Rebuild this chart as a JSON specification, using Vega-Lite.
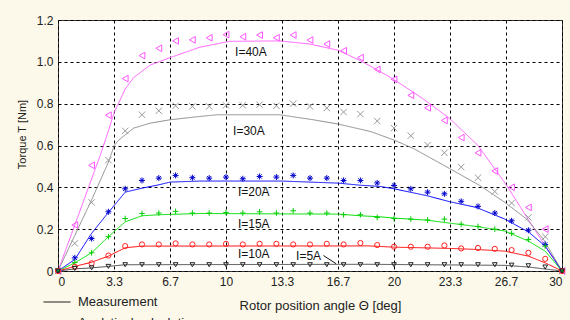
{
  "$schema": "https://vega.github.io/schema/vega-lite/v6.json",
  "width": 504,
  "height": 251,
  "autosize": {"type": "none"},
  "padding": {"left": 58, "top": 20, "right": 8, "bottom": 49},
  "background": "#fdf9ea",
  "config": {
    "font": "Liberation Sans",
    "view": {"stroke": "#333333", "strokeWidth": 1, "fill": "#ffffff"},
    "axis": {"labelFont": "Liberation Sans", "titleFont": "Liberation Sans", "labelColor": "#222222", "titleColor": "#222222", "titleFontWeight": "normal", "grid": true, "gridColor": "#000000", "gridDash": [3, 3], "gridOpacity": 1, "gridWidth": 1, "domain": false, "tickSize": 0, "labelFontSize": 12}
  },
  "datasets": {
    "lines": [
      {"s": "40A", "k": "Measurement", "x": 0, "y": 0}, {"s": "40A", "k": "Measurement", "x": 1, "y": 0.22}, {"s": "40A", "k": "Measurement", "x": 2, "y": 0.44}, {"s": "40A", "k": "Measurement", "x": 2.5, "y": 0.55}, {"s": "40A", "k": "Measurement", "x": 3, "y": 0.67}, {"s": "40A", "k": "Measurement", "x": 3.33, "y": 0.755}, {"s": "40A", "k": "Measurement", "x": 4, "y": 0.87}, {"s": "40A", "k": "Measurement", "x": 4.5, "y": 0.925}, {"s": "40A", "k": "Measurement", "x": 5.5, "y": 0.985}, {"s": "40A", "k": "Measurement", "x": 6.67, "y": 1.02}, {"s": "40A", "k": "Measurement", "x": 8.45, "y": 1.07}, {"s": "40A", "k": "Measurement", "x": 10.2, "y": 1.098}, {"s": "40A", "k": "Measurement", "x": 13.2, "y": 1.1}, {"s": "40A", "k": "Measurement", "x": 15, "y": 1.085}, {"s": "40A", "k": "Measurement", "x": 16.7, "y": 1.055}, {"s": "40A", "k": "Measurement", "x": 18, "y": 1.005}, {"s": "40A", "k": "Measurement", "x": 19, "y": 0.962}, {"s": "40A", "k": "Measurement", "x": 20, "y": 0.915}, {"s": "40A", "k": "Measurement", "x": 21.7, "y": 0.825}, {"s": "40A", "k": "Measurement", "x": 23.3, "y": 0.73}, {"s": "40A", "k": "Measurement", "x": 25, "y": 0.6}, {"s": "40A", "k": "Measurement", "x": 26.7, "y": 0.41}, {"s": "40A", "k": "Measurement", "x": 28, "y": 0.245}, {"s": "40A", "k": "Measurement", "x": 29, "y": 0.12}, {"s": "40A", "k": "Measurement", "x": 30, "y": 0},
      {"s": "30A", "k": "Measurement", "x": 0, "y": 0}, {"s": "30A", "k": "Measurement", "x": 1, "y": 0.17}, {"s": "30A", "k": "Measurement", "x": 2, "y": 0.34}, {"s": "30A", "k": "Measurement", "x": 3, "y": 0.52}, {"s": "30A", "k": "Measurement", "x": 3.35, "y": 0.6}, {"s": "30A", "k": "Measurement", "x": 3.6, "y": 0.625}, {"s": "30A", "k": "Measurement", "x": 4.5, "y": 0.683}, {"s": "30A", "k": "Measurement", "x": 5.5, "y": 0.707}, {"s": "30A", "k": "Measurement", "x": 6.67, "y": 0.723}, {"s": "30A", "k": "Measurement", "x": 8.45, "y": 0.739}, {"s": "30A", "k": "Measurement", "x": 9.5, "y": 0.747}, {"s": "30A", "k": "Measurement", "x": 13.2, "y": 0.747}, {"s": "30A", "k": "Measurement", "x": 15.2, "y": 0.723}, {"s": "30A", "k": "Measurement", "x": 16.7, "y": 0.702}, {"s": "30A", "k": "Measurement", "x": 18.6, "y": 0.667}, {"s": "30A", "k": "Measurement", "x": 20, "y": 0.626}, {"s": "30A", "k": "Measurement", "x": 21.15, "y": 0.586}, {"s": "30A", "k": "Measurement", "x": 23.33, "y": 0.489}, {"s": "30A", "k": "Measurement", "x": 25.1, "y": 0.409}, {"s": "30A", "k": "Measurement", "x": 26.6, "y": 0.328}, {"s": "30A", "k": "Measurement", "x": 27.9, "y": 0.248}, {"s": "30A", "k": "Measurement", "x": 28.9, "y": 0.151}, {"s": "30A", "k": "Measurement", "x": 30, "y": 0},
      {"s": "20A", "k": "Measurement", "x": 0, "y": 0}, {"s": "20A", "k": "Measurement", "x": 1, "y": 0.055}, {"s": "20A", "k": "Measurement", "x": 2, "y": 0.18}, {"s": "20A", "k": "Measurement", "x": 3, "y": 0.28}, {"s": "20A", "k": "Measurement", "x": 4, "y": 0.377}, {"s": "20A", "k": "Measurement", "x": 5, "y": 0.396}, {"s": "20A", "k": "Measurement", "x": 6, "y": 0.412}, {"s": "20A", "k": "Measurement", "x": 6.67, "y": 0.425}, {"s": "20A", "k": "Measurement", "x": 8.45, "y": 0.43}, {"s": "20A", "k": "Measurement", "x": 13.3, "y": 0.43}, {"s": "20A", "k": "Measurement", "x": 16.7, "y": 0.42}, {"s": "20A", "k": "Measurement", "x": 18, "y": 0.41}, {"s": "20A", "k": "Measurement", "x": 19.2, "y": 0.404}, {"s": "20A", "k": "Measurement", "x": 20, "y": 0.393}, {"s": "20A", "k": "Measurement", "x": 21.96, "y": 0.36}, {"s": "20A", "k": "Measurement", "x": 23.33, "y": 0.331}, {"s": "20A", "k": "Measurement", "x": 24.9, "y": 0.304}, {"s": "20A", "k": "Measurement", "x": 26.6, "y": 0.248}, {"s": "20A", "k": "Measurement", "x": 28, "y": 0.187}, {"s": "20A", "k": "Measurement", "x": 29, "y": 0.119}, {"s": "20A", "k": "Measurement", "x": 30, "y": 0},
      {"s": "15A", "k": "Measurement", "x": 0, "y": 0}, {"s": "15A", "k": "Measurement", "x": 1, "y": 0.039}, {"s": "15A", "k": "Measurement", "x": 2, "y": 0.087}, {"s": "15A", "k": "Measurement", "x": 3, "y": 0.164}, {"s": "15A", "k": "Measurement", "x": 4, "y": 0.235}, {"s": "15A", "k": "Measurement", "x": 5, "y": 0.264}, {"s": "15A", "k": "Measurement", "x": 6, "y": 0.269}, {"s": "15A", "k": "Measurement", "x": 8.45, "y": 0.275}, {"s": "15A", "k": "Measurement", "x": 13.3, "y": 0.273}, {"s": "15A", "k": "Measurement", "x": 16.7, "y": 0.272}, {"s": "15A", "k": "Measurement", "x": 18, "y": 0.264}, {"s": "15A", "k": "Measurement", "x": 19.2, "y": 0.259}, {"s": "15A", "k": "Measurement", "x": 20, "y": 0.253}, {"s": "15A", "k": "Measurement", "x": 21.96, "y": 0.243}, {"s": "15A", "k": "Measurement", "x": 23.3, "y": 0.229}, {"s": "15A", "k": "Measurement", "x": 24.9, "y": 0.213}, {"s": "15A", "k": "Measurement", "x": 26.6, "y": 0.191}, {"s": "15A", "k": "Measurement", "x": 28, "y": 0.143}, {"s": "15A", "k": "Measurement", "x": 29, "y": 0.095}, {"s": "15A", "k": "Measurement", "x": 30, "y": 0},
      {"s": "10A", "k": "Measurement", "x": 0, "y": 0}, {"s": "10A", "k": "Measurement", "x": 1, "y": 0.022}, {"s": "10A", "k": "Measurement", "x": 2, "y": 0.042}, {"s": "10A", "k": "Measurement", "x": 3, "y": 0.071}, {"s": "10A", "k": "Measurement", "x": 4, "y": 0.111}, {"s": "10A", "k": "Measurement", "x": 5, "y": 0.119}, {"s": "10A", "k": "Measurement", "x": 18.5, "y": 0.12}, {"s": "10A", "k": "Measurement", "x": 20, "y": 0.114}, {"s": "10A", "k": "Measurement", "x": 23.3, "y": 0.108}, {"s": "10A", "k": "Measurement", "x": 24.9, "y": 0.103}, {"s": "10A", "k": "Measurement", "x": 26.6, "y": 0.095}, {"s": "10A", "k": "Measurement", "x": 28, "y": 0.071}, {"s": "10A", "k": "Measurement", "x": 29, "y": 0.039}, {"s": "10A", "k": "Measurement", "x": 30, "y": 0},
      {"s": "5A", "k": "Measurement", "x": 0, "y": 0}, {"s": "5A", "k": "Measurement", "x": 1, "y": 0.01}, {"s": "5A", "k": "Measurement", "x": 2, "y": 0.015}, {"s": "5A", "k": "Measurement", "x": 3, "y": 0.022}, {"s": "5A", "k": "Measurement", "x": 4, "y": 0.03}, {"s": "5A", "k": "Measurement", "x": 18.5, "y": 0.032}, {"s": "5A", "k": "Measurement", "x": 26.6, "y": 0.027}, {"s": "5A", "k": "Measurement", "x": 28, "y": 0.019}, {"s": "5A", "k": "Measurement", "x": 30, "y": 0}
    ],
    "marks": [
      {"s": "40A", "x": 0, "y": 0}, {"s": "40A", "x": 1, "y": 0.22}, {"s": "40A", "x": 2, "y": 0.505}, {"s": "40A", "x": 3, "y": 0.745}, {"s": "40A", "x": 4, "y": 0.92}, {"s": "40A", "x": 5, "y": 1.03}, {"s": "40A", "x": 6, "y": 1.065}, {"s": "40A", "x": 7, "y": 1.1}, {"s": "40A", "x": 8, "y": 1.105}, {"s": "40A", "x": 9, "y": 1.115}, {"s": "40A", "x": 10, "y": 1.13}, {"s": "40A", "x": 11, "y": 1.12}, {"s": "40A", "x": 12, "y": 1.128}, {"s": "40A", "x": 13, "y": 1.115}, {"s": "40A", "x": 14, "y": 1.128}, {"s": "40A", "x": 15, "y": 1.104}, {"s": "40A", "x": 16, "y": 1.085}, {"s": "40A", "x": 17, "y": 1.053}, {"s": "40A", "x": 18, "y": 1.02}, {"s": "40A", "x": 19, "y": 0.964}, {"s": "40A", "x": 20, "y": 0.916}, {"s": "40A", "x": 21, "y": 0.84}, {"s": "40A", "x": 22, "y": 0.78}, {"s": "40A", "x": 23, "y": 0.72}, {"s": "40A", "x": 24, "y": 0.638}, {"s": "40A", "x": 25, "y": 0.565}, {"s": "40A", "x": 26, "y": 0.478}, {"s": "40A", "x": 27, "y": 0.4}, {"s": "40A", "x": 28, "y": 0.304}, {"s": "40A", "x": 29, "y": 0.2}, {"s": "40A", "x": 30, "y": 0},
      {"s": "30A", "x": 0, "y": 0}, {"s": "30A", "x": 1, "y": 0.132}, {"s": "30A", "x": 2, "y": 0.328}, {"s": "30A", "x": 3, "y": 0.53}, {"s": "30A", "x": 4, "y": 0.67}, {"s": "30A", "x": 5, "y": 0.747}, {"s": "30A", "x": 6, "y": 0.766}, {"s": "30A", "x": 7, "y": 0.79}, {"s": "30A", "x": 8, "y": 0.787}, {"s": "30A", "x": 9, "y": 0.787}, {"s": "30A", "x": 10, "y": 0.792}, {"s": "30A", "x": 11, "y": 0.792}, {"s": "30A", "x": 12, "y": 0.795}, {"s": "30A", "x": 13, "y": 0.79}, {"s": "30A", "x": 14, "y": 0.8}, {"s": "30A", "x": 15, "y": 0.787}, {"s": "30A", "x": 16, "y": 0.779}, {"s": "30A", "x": 17, "y": 0.76}, {"s": "30A", "x": 18, "y": 0.75}, {"s": "30A", "x": 19, "y": 0.717}, {"s": "30A", "x": 20, "y": 0.683}, {"s": "30A", "x": 21, "y": 0.647}, {"s": "30A", "x": 22, "y": 0.602}, {"s": "30A", "x": 23, "y": 0.565}, {"s": "30A", "x": 24, "y": 0.497}, {"s": "30A", "x": 25, "y": 0.446}, {"s": "30A", "x": 26, "y": 0.38}, {"s": "30A", "x": 27, "y": 0.325}, {"s": "30A", "x": 28, "y": 0.256}, {"s": "30A", "x": 29, "y": 0.164}, {"s": "30A", "x": 30, "y": 0},
      {"s": "20A", "x": 0, "y": 0}, {"s": "20A", "x": 1, "y": 0.063}, {"s": "20A", "x": 2, "y": 0.155}, {"s": "20A", "x": 3, "y": 0.283}, {"s": "20A", "x": 4, "y": 0.393}, {"s": "20A", "x": 5, "y": 0.433}, {"s": "20A", "x": 6, "y": 0.444}, {"s": "20A", "x": 7, "y": 0.457}, {"s": "20A", "x": 8, "y": 0.446}, {"s": "20A", "x": 9, "y": 0.444}, {"s": "20A", "x": 10, "y": 0.449}, {"s": "20A", "x": 11, "y": 0.441}, {"s": "20A", "x": 12, "y": 0.452}, {"s": "20A", "x": 13, "y": 0.449}, {"s": "20A", "x": 14, "y": 0.457}, {"s": "20A", "x": 15, "y": 0.444}, {"s": "20A", "x": 16, "y": 0.444}, {"s": "20A", "x": 17, "y": 0.433}, {"s": "20A", "x": 18, "y": 0.433}, {"s": "20A", "x": 19, "y": 0.421}, {"s": "20A", "x": 20, "y": 0.409}, {"s": "20A", "x": 21, "y": 0.393}, {"s": "20A", "x": 22, "y": 0.377}, {"s": "20A", "x": 23, "y": 0.369}, {"s": "20A", "x": 24, "y": 0.333}, {"s": "20A", "x": 25, "y": 0.309}, {"s": "20A", "x": 26, "y": 0.277}, {"s": "20A", "x": 27, "y": 0.24}, {"s": "20A", "x": 28, "y": 0.195}, {"s": "20A", "x": 29, "y": 0.127}, {"s": "20A", "x": 30, "y": 0},
      {"s": "15A", "x": 0, "y": 0}, {"s": "15A", "x": 1, "y": 0.04}, {"s": "15A", "x": 2, "y": 0.087}, {"s": "15A", "x": 3, "y": 0.164}, {"s": "15A", "x": 4, "y": 0.251}, {"s": "15A", "x": 5, "y": 0.275}, {"s": "15A", "x": 6, "y": 0.277}, {"s": "15A", "x": 7, "y": 0.285}, {"s": "15A", "x": 8, "y": 0.277}, {"s": "15A", "x": 9, "y": 0.277}, {"s": "15A", "x": 10, "y": 0.28}, {"s": "15A", "x": 11, "y": 0.277}, {"s": "15A", "x": 12, "y": 0.283}, {"s": "15A", "x": 13, "y": 0.277}, {"s": "15A", "x": 14, "y": 0.288}, {"s": "15A", "x": 15, "y": 0.277}, {"s": "15A", "x": 16, "y": 0.277}, {"s": "15A", "x": 17, "y": 0.269}, {"s": "15A", "x": 18, "y": 0.269}, {"s": "15A", "x": 19, "y": 0.256}, {"s": "15A", "x": 20, "y": 0.251}, {"s": "15A", "x": 21, "y": 0.248}, {"s": "15A", "x": 22, "y": 0.244}, {"s": "15A", "x": 23, "y": 0.248}, {"s": "15A", "x": 24, "y": 0.224}, {"s": "15A", "x": 25, "y": 0.213}, {"s": "15A", "x": 26, "y": 0.2}, {"s": "15A", "x": 27, "y": 0.18}, {"s": "15A", "x": 28, "y": 0.151}, {"s": "15A", "x": 29, "y": 0.119}, {"s": "15A", "x": 30, "y": 0},
      {"s": "10A", "x": 0, "y": 0}, {"s": "10A", "x": 1, "y": 0.02}, {"s": "10A", "x": 2, "y": 0.037}, {"s": "10A", "x": 3, "y": 0.074}, {"s": "10A", "x": 4, "y": 0.119}, {"s": "10A", "x": 5, "y": 0.127}, {"s": "10A", "x": 6, "y": 0.127}, {"s": "10A", "x": 7, "y": 0.132}, {"s": "10A", "x": 8, "y": 0.127}, {"s": "10A", "x": 9, "y": 0.127}, {"s": "10A", "x": 10, "y": 0.13}, {"s": "10A", "x": 11, "y": 0.127}, {"s": "10A", "x": 12, "y": 0.13}, {"s": "10A", "x": 13, "y": 0.13}, {"s": "10A", "x": 14, "y": 0.127}, {"s": "10A", "x": 15, "y": 0.127}, {"s": "10A", "x": 16, "y": 0.13}, {"s": "10A", "x": 17, "y": 0.127}, {"s": "10A", "x": 18, "y": 0.134}, {"s": "10A", "x": 19, "y": 0.124}, {"s": "10A", "x": 20, "y": 0.116}, {"s": "10A", "x": 21, "y": 0.116}, {"s": "10A", "x": 22, "y": 0.116}, {"s": "10A", "x": 23, "y": 0.122}, {"s": "10A", "x": 24, "y": 0.108}, {"s": "10A", "x": 25, "y": 0.11}, {"s": "10A", "x": 26, "y": 0.106}, {"s": "10A", "x": 27, "y": 0.1}, {"s": "10A", "x": 28, "y": 0.087}, {"s": "10A", "x": 29, "y": 0.058}, {"s": "10A", "x": 30, "y": 0},
      {"s": "5A", "x": 0, "y": 0}, {"s": "5A", "x": 1, "y": 0.012}, {"s": "5A", "x": 2, "y": 0.015}, {"s": "5A", "x": 3, "y": 0.022}, {"s": "5A", "x": 4, "y": 0.03}, {"s": "5A", "x": 5, "y": 0.03}, {"s": "5A", "x": 6, "y": 0.03}, {"s": "5A", "x": 7, "y": 0.03}, {"s": "5A", "x": 8, "y": 0.03}, {"s": "5A", "x": 9, "y": 0.03}, {"s": "5A", "x": 10, "y": 0.03}, {"s": "5A", "x": 11, "y": 0.03}, {"s": "5A", "x": 12, "y": 0.03}, {"s": "5A", "x": 13, "y": 0.03}, {"s": "5A", "x": 14, "y": 0.03}, {"s": "5A", "x": 15, "y": 0.03}, {"s": "5A", "x": 16, "y": 0.03}, {"s": "5A", "x": 17, "y": 0.03}, {"s": "5A", "x": 18, "y": 0.03}, {"s": "5A", "x": 19, "y": 0.03}, {"s": "5A", "x": 20, "y": 0.03}, {"s": "5A", "x": 21, "y": 0.03}, {"s": "5A", "x": 22, "y": 0.03}, {"s": "5A", "x": 23, "y": 0.03}, {"s": "5A", "x": 24, "y": 0.03}, {"s": "5A", "x": 25, "y": 0.03}, {"s": "5A", "x": 26, "y": 0.03}, {"s": "5A", "x": 27, "y": 0.028}, {"s": "5A", "x": 28, "y": 0.025}, {"s": "5A", "x": 29, "y": 0.019}, {"s": "5A", "x": 30, "y": 0}
    ],
    "labels": [
      {"t": "I=40A", "x": 10.54, "y": 1.045}, {"t": "I=30A", "x": 10.42, "y": 0.668}, {"t": "I=20A", "x": 10.71, "y": 0.38}, {"t": "I=15A", "x": 10.71, "y": 0.224}, {"t": "I=10A", "x": 10.71, "y": 0.079}, {"t": "I=5A", "x": 14.17, "y": 0.071}
    ],
    "leader": [{"x": 15.8, "y": 0.074, "x2": 16.55, "y2": 0.035}]
  },
  "resolve": {"scale": {"color": "independent"}},
  "layer": [
    {
      "data": {"name": "lines"},
      "mark": {"type": "line", "strokeWidth": 1},
      "encoding": {
        "x": {"field": "x", "type": "quantitative", "scale": {"domain": [0, 30], "nice": false, "zero": false},
          "axis": {"values": [0, 3.33333, 6.66667, 10, 13.33333, 16.66667, 20, 23.33333, 26.66667, 30], "labelExpr": "format(datum.value, '.1~f')", "labelPadding": 5, "title": "Rotor position angle Θ [deg]", "titleFontSize": 13, "titleX": 262, "titleY": 34, "titleBaseline": "middle", "titleAlign": "center"}},
        "y": {"field": "y", "type": "quantitative", "scale": {"domain": [0, 1.2], "nice": false},
          "axis": {"values": [0, 0.2, 0.4, 0.6, 0.8, 1.0, 1.2], "labelExpr": "datum.value == 0 ? '0' : format(datum.value, '.1f')", "labelPadding": 5, "title": "Torque T [Nm]", "titleFontSize": 11, "titleX": -36, "titleY": 114, "titleBaseline": "middle", "titleAlign": "center"}},
        "color": {"field": "s", "type": "nominal", "scale": {"domain": ["40A", "30A", "20A", "15A", "10A", "5A"], "range": ["#ff5cff", "#8c8c8c", "#0000ff", "#00e000", "#ff0000", "#444444"]}, "legend": null},
        "detail": {"field": "s"},
        "strokeDash": {"field": "k", "type": "nominal", "scale": {"domain": ["Measurement", "Analytical calculation"], "range": [[1, 0], [5, 2, 1, 2]]},
          "legend": {"orient": "none", "legendX": -15, "legendY": 268, "title": null, "symbolType": "stroke", "symbolStrokeColor": "#000000", "symbolStrokeWidth": 1, "symbolSize": 729, "labelFontSize": 13, "labelFont": "Liberation Sans", "labelColor": "#222222", "rowPadding": -12, "labelOffset": 7}}
      }
    },
    {
      "data": {"name": "marks"},
      "mark": {"type": "point", "filled": false, "opacity": 1},
      "encoding": {
        "x": {"field": "x", "type": "quantitative"},
        "y": {"field": "y", "type": "quantitative"},
        "color": {"field": "s", "type": "nominal", "scale": {"domain": ["40A", "30A", "20A", "15A", "10A", "5A"], "range": ["#ff55ff", "#999999", "#0000cc", "#00cc00", "#ff2020", "#222222"]}, "legend": null},
        "shape": {"field": "s", "type": "nominal", "scale": {"domain": ["40A", "30A", "20A", "15A", "10A", "5A"], "range": ["triangle-left", "M-1,-1L1,1M-1,1L1,-1", "M-1,0L1,0M0,-1L0,1M-0.7,-0.7L0.7,0.7M-0.7,0.7L0.7,-0.7", "M-1,0L1,0M0,-1L0,1", "circle", "triangle-down"]}, "legend": null},
        "size": {"field": "s", "type": "ordinal", "scale": {"domain": ["40A", "30A", "20A", "15A", "10A", "5A"], "range": [45, 22, 45, 50, 30, 35]}, "legend": null},
        "strokeWidth": {"field": "s", "type": "ordinal", "scale": {"domain": ["40A", "30A", "20A", "15A", "10A", "5A"], "range": [1, 1, 2, 1.4, 1, 1]}, "legend": null}
      }
    },
    {
      "data": {"name": "labels"},
      "mark": {"type": "text", "align": "left", "baseline": "middle", "fontSize": 12, "font": "Liberation Sans", "color": "#111111"},
      "encoding": {
        "x": {"field": "x", "type": "quantitative"},
        "y": {"field": "y", "type": "quantitative"},
        "text": {"field": "t"}
      }
    },
    {
      "data": {"name": "leader"},
      "mark": {"type": "rule", "color": "#111111", "strokeWidth": 1},
      "encoding": {
        "x": {"field": "x", "type": "quantitative"},
        "y": {"field": "y", "type": "quantitative"},
        "x2": {"field": "x2"},
        "y2": {"field": "y2"}
      }
    }
  ]
}
